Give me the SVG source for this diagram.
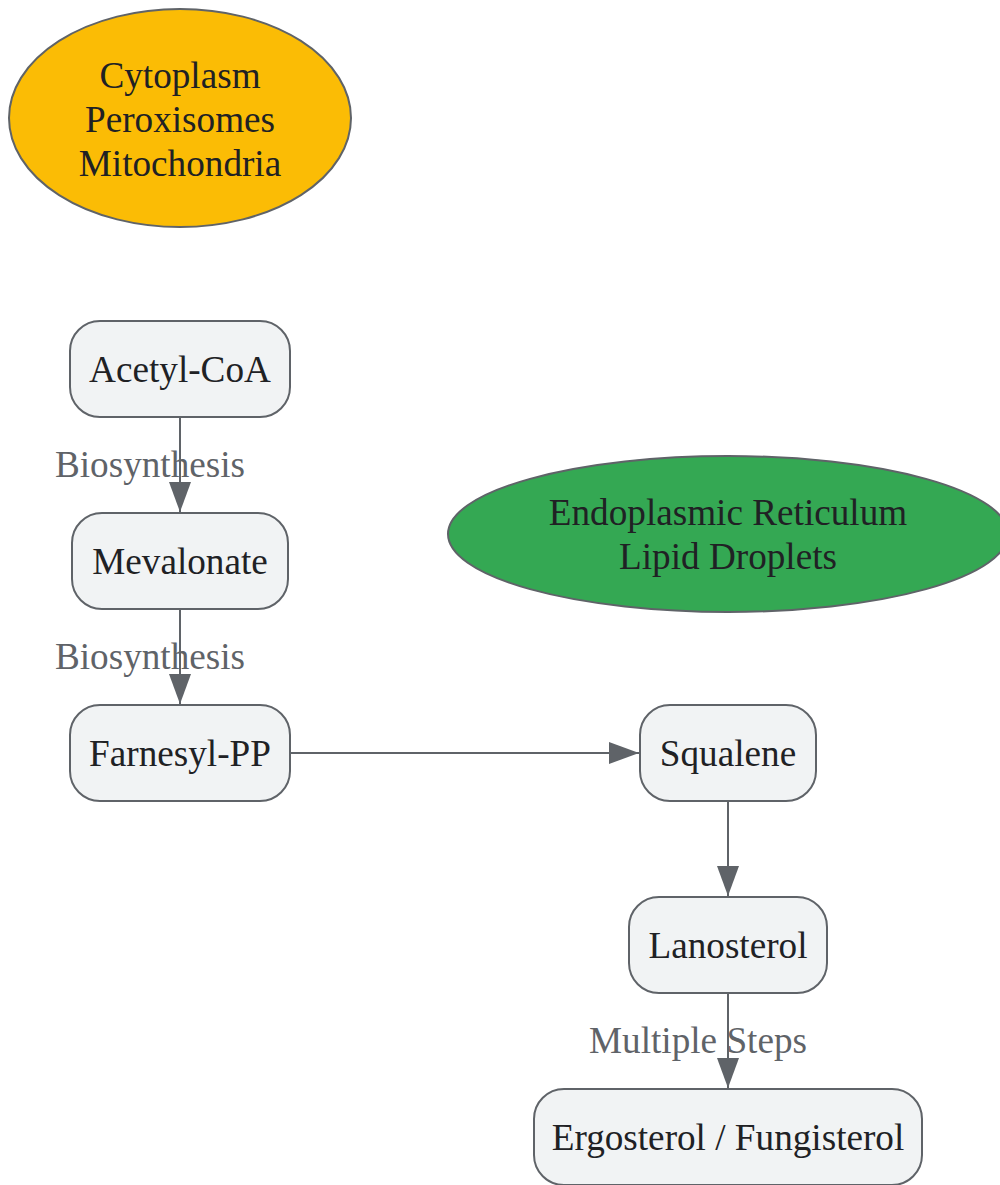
<svg xmlns="http://www.w3.org/2000/svg" width="1000" height="1185" viewBox="0 0 1000 1185">
<defs>
<style>
.node rect{fill:#f1f3f4;stroke:#5f6368;stroke-width:2}
.ell{stroke:#5f6368;stroke-width:2}
text{font-family:"Liberation Serif","Times New Roman",serif;font-size:37.2px;text-anchor:middle}
.nt{fill:#202124}
.lbl{fill:#5f6368}
.edge{stroke:#5f6368;stroke-width:2;fill:none;marker-end:url(#arr)}
</style>
<marker id="arr" viewBox="0 0 30 22" refX="30" refY="11" markerWidth="30" markerHeight="22" markerUnits="userSpaceOnUse" orient="auto">
<path d="M0,0 L30,11 L0,22 Z" fill="#5f6368"/>
</marker>
</defs>
<rect width="1000" height="1185" fill="#ffffff"/>
<g id="cytoplasm">
<ellipse class="ell" cx="180" cy="118" rx="171" ry="109" fill="#fbbc05"/>
<text class="nt" x="180" y="88">Cytoplasm</text>
<text class="nt" x="180" y="132">Peroxisomes</text>
<text class="nt" x="180" y="176">Mitochondria</text>
</g>
<g id="er">
<ellipse class="ell" cx="728" cy="534" rx="280" ry="78" fill="#34a853"/>
<text class="nt" x="728" y="525">Endoplasmic Reticulum</text>
<text class="nt" x="728" y="569">Lipid Droplets</text>
</g>
<g id="labels">
<text class="lbl" x="150" y="477">Biosynthesis</text>
<text class="lbl" x="150" y="669">Biosynthesis</text>
<text class="lbl" x="698" y="1053">Multiple Steps</text>
</g>
<g id="connectors">
<line class="edge" x1="180" y1="417" x2="180" y2="512"/>
<line class="edge" x1="180" y1="609" x2="180" y2="704"/>
<line class="edge" x1="290" y1="753" x2="639" y2="753"/>
<line class="edge" x1="728" y1="801" x2="728" y2="896"/>
<line class="edge" x1="728" y1="993" x2="728" y2="1088"/>
</g>
<g id="acetyl" class="node">
<rect x="70" y="321" width="220" height="96" rx="30"/>
<text class="nt" x="180" y="382">Acetyl-CoA</text>
</g>
<g id="mevalonate" class="node">
<rect x="72" y="513" width="216" height="96" rx="30"/>
<text class="nt" x="180" y="574">Mevalonate</text>
</g>
<g id="farnesyl" class="node">
<rect x="70" y="705" width="220" height="96" rx="30"/>
<text class="nt" x="180" y="766">Farnesyl-PP</text>
</g>
<g id="squalene" class="node">
<rect x="640" y="705" width="176" height="96" rx="30"/>
<text class="nt" x="728" y="766">Squalene</text>
</g>
<g id="lanosterol" class="node">
<rect x="629" y="897" width="198" height="96" rx="30"/>
<text class="nt" x="728" y="958">Lanosterol</text>
</g>
<g id="ergosterol" class="node">
<rect x="534" y="1089" width="388" height="96" rx="30"/>
<text class="nt" x="728" y="1150">Ergosterol / Fungisterol</text>
</g>
</svg>
